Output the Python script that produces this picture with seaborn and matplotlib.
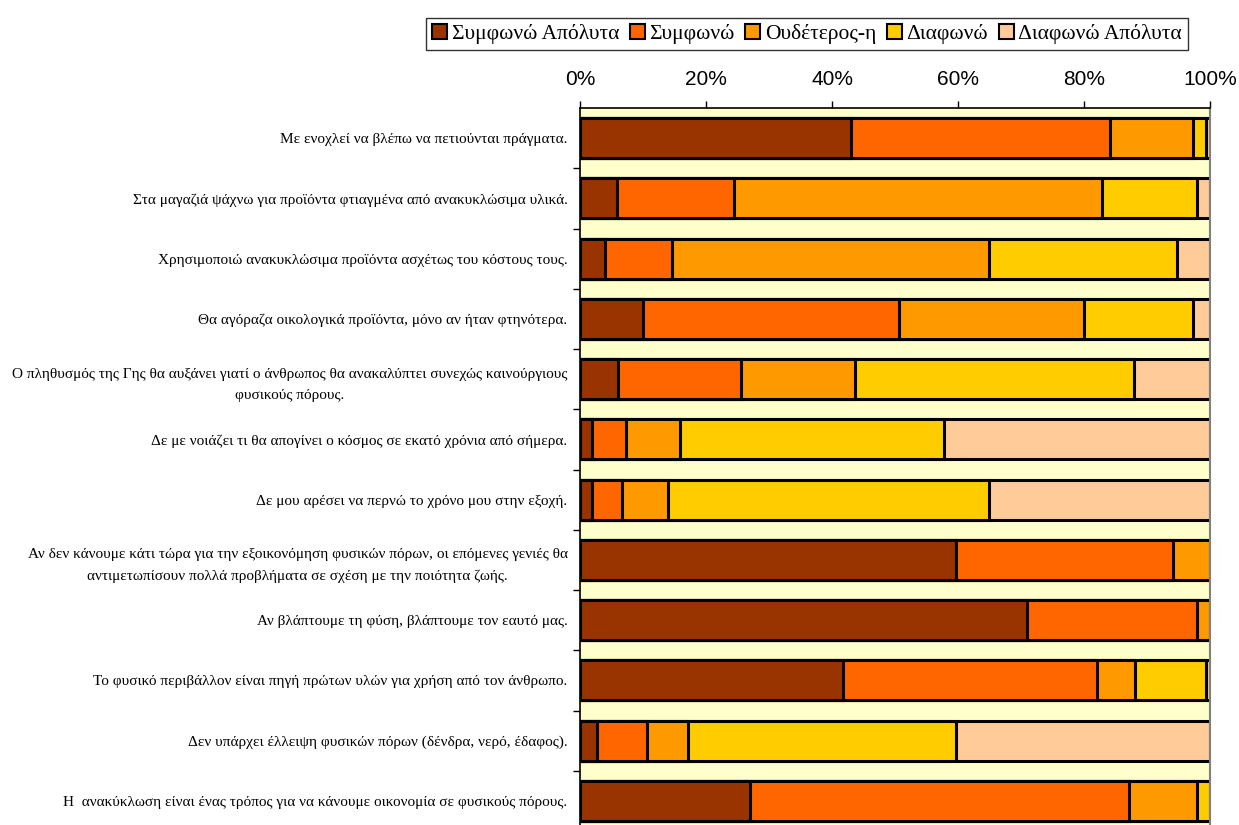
import numpy as np
import pandas as pd
import matplotlib
matplotlib.use("Agg")
import matplotlib.pyplot as plt
from matplotlib.patches import Patch
from matplotlib.ticker import FixedLocator
import seaborn as sns

# statements (top to bottom)
statements = [
    "Με ενοχλεί να βλέπω να πετιούνται πράγματα.",
    "Στα μαγαζιά ψάχνω για προϊόντα φτιαγμένα από ανακυκλώσιμα υλικά.",
    "Χρησιμοποιώ ανακυκλώσιμα προϊόντα ασχέτως του κόστους τους.",
    "Θα αγόραζα οικολογικά προϊόντα, μόνο αν ήταν φτηνότερα.",
    "Ο πληθυσμός της Γης θα αυξάνει γιατί ο άνθρωπος θα ανακαλύπτει συνεχώς καινούργιους\nφυσικούς πόρους.",
    "Δε με νοιάζει τι θα απογίνει ο κόσμος σε εκατό χρόνια από σήμερα.",
    "Δε μου αρέσει να περνώ το χρόνο μου στην εξοχή.",
    "Αν δεν κάνουμε κάτι τώρα για την εξοικονόμηση φυσικών πόρων, οι επόμενες γενιές θα\nαντιμετωπίσουν πολλά προβλήματα σε σχέση με την ποιότητα ζωής.",
    "Αν βλάπτουμε τη φύση, βλάπτουμε τον εαυτό μας.",
    "Το φυσικό περιβάλλον είναι πηγή πρώτων υλών για χρήση από τον άνθρωπο.",
    "Δεν υπάρχει έλλειψη φυσικών πόρων (δένδρα, νερό, έδαφος).",
    "Η  ανακύκλωση είναι ένας τρόπος για να κάνουμε οικονομία σε φυσικούς πόρους.",
]

levels = ["Συμφωνώ Απόλυτα", "Συμφωνώ", "Ουδέτερος-η", "Διαφωνώ", "Διαφωνώ Απόλυτα"]

# percentages
agree_strong = [43.0, 5.9, 3.9, 10.0, 6.0, 1.9, 1.9, 59.7, 70.9, 41.7, 2.7, 27.0]
agree        = [41.1, 18.6, 10.7, 40.7, 19.5, 5.4, 4.7, 34.4, 27.1, 40.4, 7.9, 60.1]
neutral      = [13.2, 58.3, 50.3, 29.3, 18.1, 8.6, 7.4, 5.9, 2.0, 6.0, 6.6, 10.9]
disagree     = [2.0, 15.1, 29.8, 17.3, 44.3, 41.8, 50.9, 0.0, 0.0, 11.2, 42.5, 2.0]
disagree_str = [0.7, 2.1, 5.3, 2.7, 12.1, 42.3, 35.1, 0.0, 0.0, 0.7, 40.3, 0.0]

colors = ["#993300", "#FF6600", "#FF9900", "#FFCC00", "#FFCC99"]

df = pd.DataFrame({
    "stmt": statements,
    levels[0]: agree_strong,
    levels[1]: agree,
    levels[2]: neutral,
    levels[3]: disagree,
    levels[4]: disagree_str,
})
cum = df[levels].cumsum(axis=1)
cum = cum.div(cum[levels[-1]], axis=0) * 100
cum["stmt"] = df["stmt"]

fig = plt.figure(figsize=(12.39, 8.25), dpi=100)
ax = fig.add_axes([580 / 1239, -6 / 825, 630 / 1239, 723 / 825])
ax.set_facecolor("#FFFFCC")

# draw cumulative bars from the widest to the narrowest so they stack
for lvl, col in reversed(list(zip(levels, colors))):
    sns.barplot(data=cum, x=lvl, y="stmt", orient="h", color=col, width=0.66,
                edgecolor="black", linewidth=2.2, saturation=1, ax=ax)

ax.set_xlim(0, 100)
ax.set_ylim(len(statements) - 0.5, -0.5)
ax.set_xlabel("")
ax.set_ylabel("")

ax.xaxis.tick_top()
ax.set_xticks([0, 20, 40, 60, 80, 100])
ax.set_xticklabels(["0%", "20%", "40%", "60%", "80%", "100%"],
                   family="Liberation Sans", fontsize=15)
ax.tick_params(axis="x", direction="out", length=5, width=1, pad=9, color="black")

ax.set_yticks(range(len(statements)))
ax.set_yticklabels(statements, family="Liberation Serif", fontsize=11,
                   multialignment="center", linespacing=1.8)
ax.tick_params(axis="y", which="major", length=0, pad=9)
ax.yaxis.set_minor_locator(FixedLocator(np.arange(0.5, len(statements) - 0.5, 1)))
ax.tick_params(axis="y", which="minor", length=5, width=1, color="black")

for side in ["left", "top"]:
    ax.spines[side].set_color("black")
    ax.spines[side].set_linewidth(1.2)
ax.spines["right"].set_color("#808080")
ax.spines["right"].set_linewidth(1.5)
ax.spines["bottom"].set_visible(False)

handles = [Patch(facecolor=c, edgecolor="black", linewidth=1.5) for c in colors]
leg = fig.legend(handles, levels, loc="center", bbox_to_anchor=(807 / 1239, 1 - 34 / 825),
                 ncol=5, frameon=True, fancybox=False, edgecolor="black",
                 handlelength=0.7, handleheight=0.7, handletextpad=0.2,
                 columnspacing=0.5, borderpad=0.3,
                 prop={"family": "Liberation Serif", "size": 15.5})
leg.get_frame().set_linewidth(1.0)

fig.savefig("out.png", dpi=100)
